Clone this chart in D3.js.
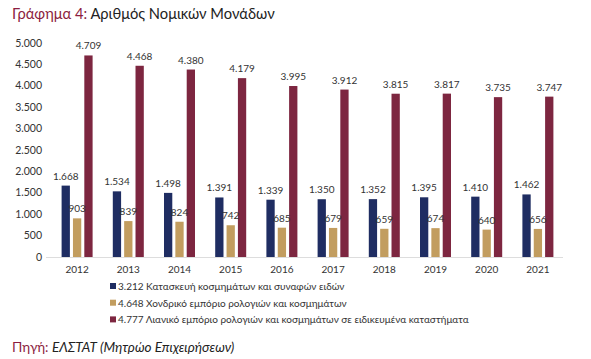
<!DOCTYPE html>
<html><head><meta charset="utf-8">
<script src="https://cdn.jsdelivr.net/npm/d3@7"></script>
<style>body{margin:0;background:#fff;} text{font-family:Lato,"Noto Sans",sans-serif;}</style>
</head><body><svg id="c" width="591" height="359"></svg>
<script>
const years = ["2012","2013","2014","2015","2016","2017","2018","2019","2020","2021"];
const manufacturing = [1668,1534,1498,1391,1339,1350,1352,1395,1410,1462];
const wholesale = [903,839,824,742,685,679,659,674,640,656];
const retail = [4709,4468,4380,4179,3995,3912,3815,3817,3735,3747];
const seriesNames = ["3.212 Κατασκευή κοσμημάτων και συναφών ειδών","4.648 Χονδρικό εμπόριο ρολογιών και κοσμημάτων","4.777 Λιανικό εμπόριο ρολογιών και κοσμημάτων σε ειδικευμένα καταστήματα"];
const yTicks = [0,500,1000,1500,2000,2500,3000,3500,4000,4500,5000];
const colors = ["#1f2d62","#c29d5f","#7d2640"];
const series = [manufacturing, wholesale, retail];

const svg = d3.select("#c");
const fmt = v => d3.format(",")(v).replace(/,/g,".");

const x = d3.scaleBand().domain(years).range([51.5,563.5]).paddingInner(0).paddingOuter(0);
const inner = d3.scaleBand().domain([0,1,2]).range([0,31]).paddingInner(0.27);
const y = d3.scaleLinear().domain([0,5000]).range([257,43]);

// title
const t = svg.append("text").attr("x",12).attr("y",19).attr("font-size",14.7);
t.append("tspan").attr("fill","#8c1d40").text("Γράφημα 4: ");
t.append("tspan").attr("fill","#222").text("Αριθμός Νομικών Μονάδων");

// y axis labels
svg.append("g").selectAll("text").data(yTicks).join("text")
  .attr("x",42).attr("y",d=>y(d)).attr("dy","0.35em").attr("text-anchor","end")
  .attr("font-size",10.5).attr("fill","#333").text(d=>fmt(d));

// baseline
svg.append("line").attr("x1",46).attr("x2",563).attr("y1",257.5).attr("y2",257.5).attr("stroke","#ddd");

// bars
const g = svg.append("g");
years.forEach((yr,i)=>{
  const cx = x(yr) + x.bandwidth()/2 - 15.5;
  series.forEach((s,k)=>{
    const bx = cx + inner(k);
    g.append("rect").attr("x",bx).attr("y",y(s[i])).attr("width",inner.bandwidth())
      .attr("height",y(0)-y(s[i])).attr("fill",colors[k]);
  });
  series.forEach((s,k)=>{
    const bx = cx + inner(k) + inner.bandwidth()/2;
    g.append("text").attr("x",bx).attr("y",y(s[i])-6).attr("text-anchor","middle")
      .attr("font-size",10).attr("fill","#333").text(fmt(s[i]));
  });
  g.append("text").attr("x",x(yr)+x.bandwidth()/2).attr("y",273).attr("text-anchor","middle")
    .attr("font-size",10).attr("fill","#333").text(yr);
});

// legend
seriesNames.forEach((n,k)=>{
  const ly = 287 + k*16.7;
  svg.append("rect").attr("x",110).attr("y",ly-4).attr("width",6).attr("height",6).attr("fill",colors[k]);
  svg.append("text").attr("x",118).attr("y",ly).attr("dy","0.3em").attr("font-size",10).attr("fill","#333").text(n);
});

// source
const s = svg.append("text").attr("x",12).attr("y",352).attr("font-size",13.5);
s.append("tspan").attr("fill","#8c1d40").text("Πηγή: ");
s.append("tspan").attr("fill","#222").attr("font-style","italic").text("ΕΛΣΤΑΤ (Μητρώο Επιχειρήσεων)");
</script></body></html>
